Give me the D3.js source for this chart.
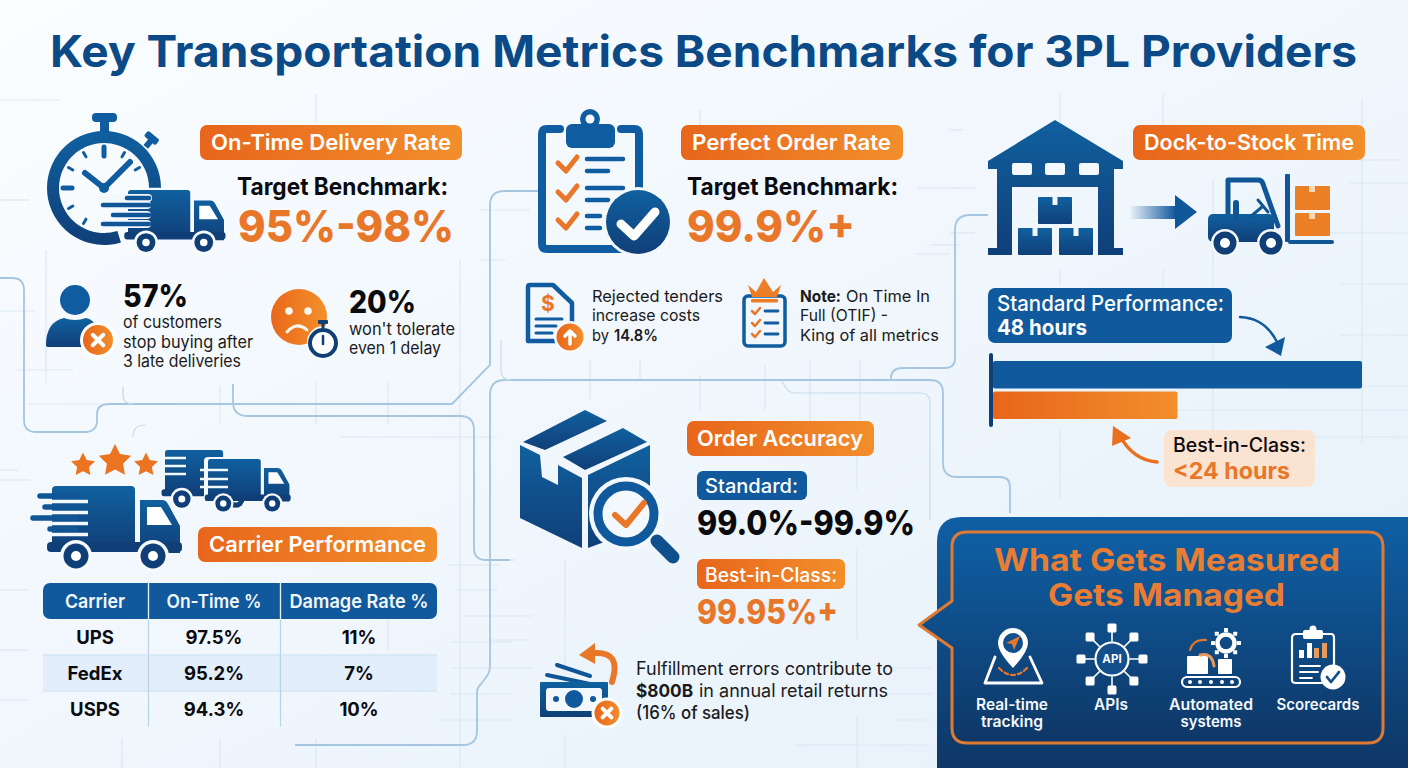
<!DOCTYPE html>
<html>
<head>
<meta charset="utf-8">
<script src="https://cdn.jsdelivr.net/npm/d3@7"></script>
<style>
  html, body { margin: 0; padding: 0; background: #f4f8fc; }
  svg { display: block; }
  text { font-family: Inter, "Noto Sans", sans-serif; }
</style>
</head>
<body>
<svg id="chart" width="1408" height="768"></svg>
<script>
// table values
var tableHead = ["Carrier", "On-Time %", "Damage Rate %"]
var carriers = ["UPS", "FedEx", "USPS"]
var onTimePct = [97.5, 95.2, 94.3]
var damageRatePct = [11, 7, 10]

// dock-to-stock bars
var dockNames = ["Standard Performance", "Best-in-Class"]
var dockHours = [48, 24]

// callout items
var toolLines = [["Real-time", "tracking"], ["APIs"], ["Automated", "systems"], ["Scorecards"]]

var BLUE = "url(#gradBlue)", ORANGE = "url(#gradOrange)", BG = "#f3f8fc"
var INK = "#0b0b0f", ORANGE_TXT = "#e9772a", NAVY = "#0f3f73", MID = "#0f5ca0", LINE = "#a5c6e0", FAINT = "#dbe8f3"

var svg = d3.select("#chart")
var defs = svg.append("defs")

function gradient(id, x2, y2, c1, c2) {
  var g = defs.append("linearGradient").attr("id", id)
    .attr("x1", 0).attr("y1", 0).attr("x2", x2).attr("y2", y2)
  g.append("stop").attr("offset", "0%").attr("stop-color", c1)
  g.append("stop").attr("offset", "100%").attr("stop-color", c2)
}
gradient("gradBg", 1, 1, "#fbfdff", "#e5f0fa")
gradient("gradBlue", 0, 1, "#10609f", "#103f78")
gradient("gradOrange", 1, 0, "#e8661b", "#f28e2c")
gradient("gradFace", 1, 0, "#e9681c", "#f39029")
gradient("gradPanel", 0, 1, "#0f5fa4", "#0e3766")
gradient("gradTail", 1, 0, "#eaf2fa", "#10579a")

svg.append("rect").attr("width", 1408).attr("height", 768).attr("fill", "url(#gradBg)")

// faint background grid
var gridLines = [
  [316,94,316,122],[46,250,46,383],[0,311,35,311],[16,370,73,370],[123,387,123,400],[220,386,220,424],[316,381,316,424],
  [388,381,388,424],[460,260,460,768],[28,404,100,404],[340,437,497,437],[365,404,440,404],
  [1060,94,1060,125],[1060,270,1060,285],[1060,430,1060,500],[1163,94,1163,125],[1163,270,1163,290],[1213,180,1213,440],
  [1362,100,1362,443],[1360,160,1400,160],[1350,183,1408,183],[1320,233,1408,233],[1340,284,1408,284],[1340,335,1408,335],
  [1290,386,1408,386],[1290,437,1408,437],[1110,410,1408,410],[950,130,963,130],[950,188,975,188],[950,233,975,233],
  [700,375,700,410],[765,365,765,410],[810,360,810,430],[860,360,860,420],[590,360,590,400],[640,360,640,380],
  [0,470,18,470],[0,590,28,590],[0,650,28,650],[0,700,28,700],[448,565,500,565],[455,590,498,590],[460,616,532,616],
  [451,642,512,642],[451,668,532,668],[450,694,512,694],[438,720,510,720],[565,560,565,668],[565,735,565,768],[122,738,122,768],
  [220,738,220,768],[316,738,316,768],[388,620,388,650],[857,455,857,490],[857,550,857,640],[857,715,857,768],
  [795,745,930,745],[880,668,932,668],[890,694,932,694],[897,720,932,720],[0,480,30,480],[490,560,515,560],[490,640,530,640],
  [480,210,530,210],[480,260,505,260],[700,110,700,140],[930,245,960,245],[917,188,960,188],[915,254,950,254],
  [1,100,60,100],[0,200,30,200]
]
svg.append("g").selectAll("line").data(gridLines).join("line")
  .attr("x1", function(d) { return d[0] }).attr("y1", function(d) { return d[1] })
  .attr("x2", function(d) { return d[2] }).attr("y2", function(d) { return d[3] })
  .attr("stroke", FAINT).attr("stroke-width", 1.2)

// connector lines
var connectors = [
  "M0,278 H12 Q24,278 24,290 V420 Q24,432 36,432 H85 Q97,432 97,420 V414 Q97,404 109,404 H452 L490,365 V205 Q490,191 505,191 H540",
  "M233,384 V402 Q233,416 248,416 H460 Q474,416 474,430 V548 Q474,560 486,560 H510",
  "M295,745 H463 Q477,745 477,731 V692 Q477,688 481,684 L487,676 Q490,672 490,665 V395 Q490,380 505,380 H930 Q943,380 943,393 V463 Q943,477 957,477 H1000 Q1010,477 1010,487 V513",
  "M891,380 V378 Q891,368 903,368 H945 Q955,368 955,358 V230 Q955,215 970,215 H988"
]
svg.append("g").selectAll("path").data(connectors).join("path")
  .attr("d", function(d) { return d })
  .attr("fill", "none").attr("stroke", LINE).attr("stroke-width", 1.8)
var lightConnectors = ["M501,340 V370 Q501,380 511,380", "M782,381 L786,388 Q789,393 796,393 H920 Q930,393 930,403 V520",
  "M123,387 V395 Q123,404 133,404", "M133,437 Q133,425 145,425"]
svg.append("g").selectAll("path").data(lightConnectors).join("path")
  .attr("d", function(d) { return d })
  .attr("fill", "none").attr("stroke", "#c7dcec").attr("stroke-width", 1.2)

function label(x, y, str, size, weight, fill, width, anchor) {
  var t = svg.append("text").attr("x", x).attr("y", y).text(str)
    .attr("font-size", size).attr("font-weight", weight).attr("fill", fill)
    .attr("text-anchor", anchor || "start")
  if (width) t.attr("textLength", width).attr("lengthAdjust", "spacingAndGlyphs")
  return t
}

function box(x, y, w, h, r, fill) {
  return svg.append("rect").attr("x", x).attr("y", y).attr("width", w).attr("height", h).attr("rx", r).attr("fill", fill)
}

function stroke(d, color, w, fill) {
  return svg.append("path").attr("d", d).attr("fill", fill || "none").attr("stroke", color)
    .attr("stroke-width", w).attr("stroke-linecap", "round").attr("stroke-linejoin", "round")
}

function poly(pts, fill) {
  return svg.append("polygon").attr("points", pts).attr("fill", fill)
}

function circle(x, y, r, fill) {
  return svg.append("circle").attr("cx", x).attr("cy", y).attr("r", r).attr("fill", fill)
}

function pill(x, y, w, h, str, tx, tw) {
  box(x, y, w, h, 7, ORANGE)
  label(tx, y + h - 10, str, 22, 600, "#fff", tw)
}

function badgeX(x, y, r) {
  circle(x, y, r + 3, "#fff")
  circle(x, y, r, ORANGE)
  var k = r * 0.35
  stroke("M" + (x - k) + "," + (y - k) + " L" + (x + k) + "," + (y + k) + " M" + (x + k) + "," + (y - k) + " L" + (x - k) + "," + (y + k), "#fff", 4)
}

function truck(x, y, s, lines) {
  var g = svg.append("g").attr("transform", "translate(" + x + "," + y + ") scale(" + s + ")")
  g.append("rect").attr("x", 0).attr("width", 83).attr("height", 64).attr("rx", 4).attr("fill", BLUE)
  g.append("path").attr("fill", BLUE).attr("d", "M88,14 H110 Q114,14 116,18 L128,40 V67 H88 Z")
  g.append("rect").attr("x", -5).attr("y", 56).attr("width", 135).attr("height", 10).attr("rx", 4).attr("fill", "#103f78")
  g.append("path").attr("fill", "#fff").attr("d", "M95,21 H109 L120,39 H95 Z")
  if (lines) {
    var rows = [[-12, 10], [-7, 21], [-19, 32], [-2, 43]]
    rows.forEach(function(r) {
      g.append("line").attr("x1", -2).attr("x2", 36).attr("y1", r[1] + 5.5).attr("y2", r[1] + 5.5).attr("stroke", BG).attr("stroke-width", 3.5)
      g.append("line").attr("x1", r[0]).attr("x2", 24).attr("y1", r[1]).attr("y2", r[1]).attr("stroke", "#105596").attr("stroke-width", 5.5).attr("stroke-linecap", "round")
    })
  }
  ;[24, 101].forEach(function(cx) {
    g.append("circle").attr("cx", cx).attr("cy", 70).attr("r", 16).attr("fill", "#f6fafd")
    g.append("circle").attr("cx", cx).attr("cy", 70).attr("r", 12.5).attr("fill", "#103f78")
    g.append("circle").attr("cx", cx).attr("cy", 70).attr("r", 5).attr("fill", "#fff")
  })
}

// title
label(50, 67, "Key Transportation Metrics Benchmarks for 3PL Providers", 44, 700, "#0b4a86", 1307)

// ---- On-Time Delivery Rate ----
var clockArc = d3.arc().innerRadius(45).outerRadius(57).startAngle(2.84).endAngle(7.85)
svg.append("path").attr("d", clockArc()).attr("transform", "translate(104,188)").attr("fill", BLUE)
box(92, 113, 25, 9, 4, MID)
box(100, 120, 9, 12, 0, MID)
svg.append("rect").attr("x", 144).attr("y", 134).attr("width", 15).attr("height", 7).attr("rx", 2).attr("fill", MID).attr("transform", "rotate(40 151 138)")
svg.append("rect").attr("x", 146).attr("y", 139).attr("width", 6).attr("height", 9).attr("fill", MID).attr("transform", "rotate(40 149 143)")
d3.range(12).filter(function(i) { return i < 3 || i > 6 }).forEach(function(i) {
  var a = i * Math.PI / 6, r1 = i % 3 == 0 ? 32 : 36
  stroke("M" + (104 + r1 * Math.sin(a)) + "," + (188 - r1 * Math.cos(a)) + " L" + (104 + 41 * Math.sin(a)) + "," + (188 - 41 * Math.cos(a)), MID, i % 3 == 0 ? 5 : 3)
})
stroke("M85,173 L104,188 L130,162", MID, 6)
circle(104, 188, 5, MID)
truck(128, 190, 0.75, false)
;[[103, 198, 148], [103, 205, 147], [113, 215, 147], [103, 224, 147]].forEach(function(r) {
  stroke("M" + r[0] + "," + r[1] + " H" + r[2], BG, 8)
})
;[[127, 198, 149], [103, 205, 149], [113, 215, 149], [103, 224, 149]].forEach(function(r) {
  stroke("M" + r[0] + "," + r[1] + " H" + r[2], "#105596", 4.5)
})

pill(200, 125, 262, 35, "On-Time Delivery Rate", 211, 240)
label(237, 195, "Target Benchmark:", 24, 700, INK, 211)
label(238, 242, "95%-98%", 44, 800, ORANGE_TXT, 216)

circle(75, 300, 15, MID)
svg.append("path").attr("fill", BLUE).attr("d", "M46,345 Q46,322 64,318 Q75,322 86,318 Q96,320 100,335 L90,347 H48 Q46,347 46,345 Z")
badgeX(98, 340, 15)
label(123, 307, "57%", 31, 800, INK, 65)
label(123, 328, "of customers", 17, 400, "#1a1a20", 99)
label(123, 348, "stop buying after", 17, 400, "#1a1a20", 130)
label(123, 367, "3 late deliveries", 17, 400, "#1a1a20", 118)

circle(299, 317, 28, "url(#gradFace)")
circle(289, 311, 3.8, "#fff8ef")
circle(308, 311, 3.8, "#fff8ef")
stroke("M287,332 Q297,321 307,330", "#fff8ef", 3)
circle(323, 342, 16, "#f6fafd")
svg.append("circle").attr("cx", 323).attr("cy", 343).attr("r", 13).attr("fill", "#fff").attr("stroke", NAVY).attr("stroke-width", 4)
box(318, 320, 10, 4, 1, NAVY)
box(321.5, 323, 3, 5, 0, NAVY)
stroke("M323,336 V344", NAVY, 2.5)
label(349, 313, "20%", 31, 800, INK, 67)
label(349, 335, "won't tolerate", 17, 400, "#1a1a20", 106)
label(349, 354, "even 1 delay", 17, 400, "#1a1a20", 92)

// ---- Perfect Order Rate ----
stroke("M560,129 H547 Q542,129 542,134 V244 Q542,249 547,249 H620 M621,129 H634 Q639,129 639,134 V190", MID, 8)
box(566, 124, 49, 24, 6, MID)
circle(590, 119, 10, MID)
circle(590, 119, 4.5, "#f3f8fc")
;[163, 192, 220].forEach(function(y, i) {
  stroke("M558," + y + " L566," + (y + 8) + " L577," + (y - 6), ORANGE_TXT, 5)
  stroke("M587," + (y - 4) + " H" + (i == 2 ? 600 : 623), MID, 4.5)
  stroke("M587," + (y + 8) + " H" + (i == 2 ? 600 : 608), MID, 4.5)
})
circle(638, 222, 35, "#f3f8fc")
circle(638, 222, 32, BLUE)
stroke("M621,224 L634,236 L655,212", "#fff", 9)

pill(681, 125, 222, 35, "Perfect Order Rate", 692, 199)
label(687, 195, "Target Benchmark:", 24, 700, INK, 211)
label(687, 242, "99.9%+", 44, 800, ORANGE_TXT, 168)

stroke("M553,285 H530 Q528,285 528,287 V341 H572 V303 Z", MID, 4.5)
label(548, 311, "$", 21, 700, ORANGE_TXT, null, "middle")
stroke("M536,319 H562 M536,326 H556 M536,333 H552", MID, 3)
circle(570, 337, 16, "#f6fafd")
circle(570, 337, 13.5, ORANGE)
stroke("M570,344 V331 M565,336 L570,331 L575,336", "#fff", 3.5)
label(592, 302, "Rejected tenders", 16.5, 400, "#1a1a20", 131)
label(592, 321, "increase costs", 16.5, 400, "#1a1a20", 108)
label(592, 341, "by", 16.5, 400, "#1a1a20", 17)
label(614, 341, "14.8%", 16.5, 600, "#1a1a20", 44)

svg.append("rect").attr("x", 744).attr("y", 296).attr("width", 41).attr("height", 50).attr("rx", 4).attr("fill", "none").attr("stroke", MID).attr("stroke-width", 3.5)
poly("748,285 756,292 764,278 773,292 781,285 777,297 752,297", "#ec7f26")
box(751, 299, 27, 3.5, 1, "#ec7f26")
;[311, 323, 334].forEach(function(y) {
  stroke("M752," + y + " L755," + (y + 3) + " L760," + (y - 3), ORANGE_TXT, 2.5)
  stroke("M765," + y + " H778", MID, 2.8)
})
label(800, 302, "Note:", 16.5, 700, "#1a1a20", 41)
label(846, 302, "On Time In", 16.5, 400, "#1a1a20", 84)
label(800, 321, "Full (OTIF) -", 16.5, 400, "#1a1a20", 88)
label(800, 341, "King of all metrics", 16.5, 400, "#1a1a20", 139)

// ---- Dock-to-Stock Time ----
svg.append("path").attr("fill", BLUE).attr("d", "M1055,120 L1123,161 V169 H1114 V248 H1123 V255 H1098 V187 H1012 V255 H988 V248 H997 V169 H988 V161 Z")
;[1012, 1045, 1079].forEach(function(x) { box(x, 163, 20, 12, 2, "#f3f8fc") })
box(1038, 197, 34, 27, 1, BLUE)
box(1018, 228, 34, 27, 1, BLUE)
box(1059, 228, 34, 27, 1, BLUE)
;[1055, 1035, 1076].forEach(function(x, i) { box(x - 2.5, i == 0 ? 197 : 228, 5, 8, 0, "#f3f8fc") })
box(1130, 206, 46, 13, 0, "url(#gradTail)")
poly("1175,195 1197,212 1175,229", "#10579a")

// forklift
stroke("M1228,214 V180 H1258 Q1262,180 1263,184 L1278,226", "#105596", 5, "none")
box(1208, 214, 66, 28, 5, BLUE)
box(1233, 200, 6, 20, 3, "#105596")
stroke("M1250,217 L1262,207 M1258,200 L1268,212", "#105596", 3)
box(1285, 174, 5, 68, 1, "#105596")
box(1288, 240, 46, 4, 2, "#105596")
box(1295, 186, 35, 24, 1, "#ec7f26")
box(1295, 213, 35, 23, 1, "#ec7f26")
;[1312, 1312].forEach(function(x, i) { box(x - 3, i == 0 ? 186 : 213, 6, 6, 0, "#f8d7b4") })
;[1225, 1271].forEach(function(x) {
  circle(x, 243, 14, "#f3f8fc")
  circle(x, 243, 11.5, "#103f78")
  circle(x, 243, 5, "#fff")
})

pill(1133, 125, 232, 35, "Dock-to-Stock Time", 1144, 210)
box(988, 288, 244, 55, 7, "#10599c")
label(997, 311, "Standard Performance:", 22, 500, "#fff", 227)
label(997, 335, "48 hours", 22, 700, "#fff", 90)

var dockX = d3.scaleLinear().domain([0, d3.max(dockHours)]).range([993, 1362])
var dockY = d3.scaleBand().domain(dockNames).range([361, 419]).paddingInner(0.1)
svg.append("g").selectAll("rect").data(dockNames).join("rect")
  .attr("x", dockX(0))
  .attr("y", function(d) { return dockY(d) })
  .attr("width", function(d, i) { return dockX(dockHours[i]) - dockX(0) })
  .attr("height", dockY.bandwidth())
  .attr("rx", 2)
  .attr("fill", function(d, i) { return i == 0 ? "#10599c" : ORANGE })
box(989, 353, 4, 74, 2, NAVY)

stroke("M1240,317 Q1265,318 1277,342", "#10599c", 2.5)
poly("1285,337 1281,356 1265,347", "#10599c")
stroke("M1157,462 Q1133,460 1120,436", "#e8701f", 3.5)
poly("1113,426 1131,438 1112,446", "#e8701f")

box(1164, 430, 151, 57, 8, "#fbe3d1")
label(1173, 452, "Best-in-Class:", 20, 500, INK, 133)
label(1173, 479, "<24 hours", 23, 700, ORANGE_TXT, 117)

// ---- Carrier Performance ----
// fatter than d3.symbolStar, closer to the stars in the picture
function starPoints(cx, cy, r) {
  return d3.range(10).map(function(i) {
    var a = i * Math.PI / 5, k = i % 2 == 0 ? r : r * 0.5
    return (cx + k * Math.sin(a)) + "," + (cy - k * Math.cos(a))
  }).join(" ")
}
;[[83, 465, 12.5], [115, 461, 17], [146, 465, 12.5]].forEach(function(s) {
  poly(starPoints(s[0], s[1], s[2]), "#ec7420")
})
truck(165, 450, 0.7, false)
svg.append("g").selectAll("line").data([458, 466, 474]).join("line")
  .attr("x1", 163).attr("x2", 186).attr("y1", function(d) { return d }).attr("y2", function(d) { return d })
  .attr("stroke", BG).attr("stroke-width", 2.5)
box(204, 457, 58, 44, 4, BG)
truck(208, 459, 0.636, false)
svg.append("g").selectAll("line").data([470, 479, 487]).join("line")
  .attr("x1", 200).attr("x2", 228).attr("y1", function(d) { return d }).attr("y2", function(d) { return d })
  .attr("stroke", BG).attr("stroke-width", 2.5)
truck(52, 486, 1, true)

pill(198, 527, 239, 35, "Carrier Performance", 209, 217)

var colX = d3.scaleOrdinal().domain(tableHead).range([95, 214, 359])
var rowY = d3.scaleBand().domain(carriers).range([619, 727])
box(43, 583, 394, 36, 7, "#10599c")
box(43, rowY("FedEx"), 394, rowY.bandwidth(), 0, "#e2eef9")
svg.append("g").selectAll("line").data([655, 691]).join("line")
  .attr("x1", 43).attr("x2", 437).attr("y1", function(d) { return d }).attr("y2", function(d) { return d })
  .attr("stroke", "#c9dff1").attr("stroke-width", 1.2)
;[148.5, 280.5].forEach(function(x) {
  stroke("M" + x + ",583 V726", "#b9d3e8", 1.2)
  stroke("M" + x + ",583 V619", "#e6f0f8", 1.2)
})
var headWidth = [60, 95, 139]
tableHead.forEach(function(h, i) {
  label(colX(h), 608, h, 19, 600, "#f1f7fc", headWidth[i], "middle")
})
svg.append("g").selectAll("text.c").data(carriers).join("text")
  .attr("x", colX(tableHead[0])).attr("y", function(d) { return rowY(d) + 25 })
  .attr("text-anchor", "middle").attr("font-size", 18.5).attr("font-weight", 700).attr("fill", INK)
  .text(function(d) { return d })
svg.append("g").selectAll("text.o").data(onTimePct).join("text")
  .attr("x", colX(tableHead[1])).attr("y", function(d, i) { return rowY(carriers[i]) + 25 })
  .attr("text-anchor", "middle").attr("font-size", 18.5).attr("font-weight", 700).attr("fill", INK)
  .text(function(d) { return d.toFixed(1) + "%" })
svg.append("g").selectAll("text.d").data(damageRatePct).join("text")
  .attr("x", colX(tableHead[2])).attr("y", function(d, i) { return rowY(carriers[i]) + 25 })
  .attr("text-anchor", "middle").attr("font-size", 18.5).attr("font-weight", 700).attr("fill", INK)
  .text(function(d) { return d + "%" })

// ---- Order Accuracy ----
poly("523,442 585,410 607,421 545,450", BLUE)
poly("563,457 623,428 647,442 585,470", BLUE)
poly("520,445 540,455 542,477 558,485 558,465 582,478 582,548 520,518", BLUE)
poly("588,475 650,445 650,525 588,548", BLUE)
circle(626, 514, 37, "#f3f8fc")
svg.append("circle").attr("cx", 626).attr("cy", 514).attr("r", 28).attr("fill", "#f3f8fc").attr("stroke", "#10599c").attr("stroke-width", 9)
stroke("M657,541 L673,557", "#0f4f8c", 13)
stroke("M615,515 L626,525 L644,503", ORANGE_TXT, 6)

pill(687, 421, 187, 35, "Order Accuracy", 697, 166)
box(697, 471, 110, 29, 6, "#10599c")
label(705, 493, "Standard:", 20, 500, "#fff", 93)
label(697, 535, "99.0%-99.9%", 34, 800, INK, 218)
box(697, 559, 148, 30, 6, ORANGE)
label(705, 582, "Best-in-Class:", 20, 500, "#fff", 132)
label(697, 624, "99.95%+", 34, 800, ORANGE_TXT, 141)

// money icon
stroke("M557,665 L590,676 M547,675 L590,684", "#105596", 4)
box(540, 682, 68, 35, 1, BLUE)
box(546, 688, 56, 23, 3, "#f3f8fc")
circle(574, 699, 9, "#10599c")
circle(556, 699, 3, "#10599c")
circle(593, 699, 3, "#10599c")
stroke("M594,653 Q622,651 612,682", ORANGE_TXT, 6)
poly("579,655 595,643 595,664", ORANGE_TXT)
badgeX(607, 713, 12.5)
label(636, 675, "Fulfillment errors contribute to", 18, 400, "#1a1a20", 257)
label(636, 697, "$800B", 18, 700, "#1a1a20", 57)
label(699, 697, "in annual retail returns", 18, 400, "#1a1a20", 189)
label(636, 719, "(16% of sales)", 18, 500, "#1a1a20", 114)

// ---- Callout ----
svg.append("path").attr("fill", "url(#gradPanel)")
  .attr("d", "M937,768 V542 Q937,517 962,517 H1408 V768 Z")
svg.append("path").attr("fill", "url(#gradPanel)").attr("stroke", "#e07a33").attr("stroke-width", 3).attr("stroke-linejoin", "round")
  .attr("d", "M967,532 H1368 Q1383,532 1383,547 V728 Q1383,743 1368,743 H967 Q952,743 952,728 V648 L919,625 L952,601 V547 Q952,532 967,532 Z")
label(994, 571, "What Gets Measured", 31, 700, "#e87d33", 346)
label(1048, 606, "Gets Managed", 31, 700, "#e87d33", 237)

var toolX = d3.scaleOrdinal().domain(d3.range(4)).range([1012, 1111, 1211, 1318])
var toolWidth = [72, 34, 84, 83]
var toolWidth2 = [62, 0, 61, 0]
toolLines.forEach(function(lines, i) {
  label(toolX(i), 710, lines[0], 15.5, 600, "#f4f8fc", toolWidth[i], "middle")
  if (lines[1]) label(toolX(i), 727, lines[1], 15.5, 600, "#f4f8fc", toolWidth2[i], "middle")
})

// tracking icon
stroke("M995,657 L985,683 H1042 L1030,657", "#fff", 2.8)
svg.append("path").attr("fill", "#fff").attr("d", "M1013,628 A15,15 0 0 1 1028,643 Q1028,652 1013,668 Q998,652 998,643 A15,15 0 0 1 1013,628 Z")
circle(1013, 643, 10, "#114f8c")
poly("1006,643 1020,636 1014,650 1012,644", ORANGE_TXT)
stroke("M999,668 Q1013,682 1027,668", ORANGE_TXT, 2.2).attr("stroke-dasharray", "4 3")

// api icon
d3.range(8).forEach(function(i) {
  var a = i * Math.PI / 4, ax = 1112 + 31 * Math.sin(a), ay = 659 - 31 * Math.cos(a)
  stroke("M" + (1112 + 18 * Math.sin(a)) + "," + (659 - 18 * Math.cos(a)) + " L" + ax + "," + ay, "#fff", 1.6)
  box(ax - 4.5, ay - 4.5, 9, 9, 1.5, "#fff")
})
svg.append("circle").attr("cx", 1112).attr("cy", 659).attr("r", 16.5).attr("fill", "#124f8c").attr("stroke", "#fff").attr("stroke-width", 2.2)
label(1112, 663, "API", 11.5, 700, "#fff", null, "middle")

// automated systems icon
svg.append("rect").attr("x", 1182).attr("y", 677).attr("width", 58).attr("height", 10).attr("rx", 5).attr("fill", "none").attr("stroke", "#fff").attr("stroke-width", 2.2)
;[1190, 1200, 1211, 1222, 1232].forEach(function(x) { circle(x, 682, 2, "#fff") })
box(1187, 656, 21, 18, 1, "#fff")
box(1218, 659, 14, 15, 1, "#fff")
svg.append("circle").attr("cx", 1226).attr("cy", 643).attr("r", 8.5).attr("fill", "none").attr("stroke", "#fff").attr("stroke-width", 4.5)
d3.range(8).forEach(function(i) {
  var a = i * Math.PI / 4
  box(1226 + 13 * Math.sin(a) - 2, 643 - 13 * Math.cos(a) - 2, 4, 4, 0.5, "#fff")
})
stroke("M1190,650 Q1193,639 1206,640", ORANGE_TXT, 2.2)
stroke("M1200,655 Q1212,652 1214,666", "#e89a5c", 3)

// scorecards icon
stroke("M1303,634 H1296 Q1292,634 1292,638 V680 Q1292,683 1296,683 H1322 M1317,634 H1331 Q1334,634 1334,638 V665", "#fff", 2.2)
box(1303, 630, 20, 9, 2, "#fff")
circle(1313, 629, 3.5, "#fff")
;[[1299, 650, "#fff"], [1307, 643, "#fff"], [1314, 648, "#e89a5c"], [1322, 643, "#e89a5c"]].forEach(function(b) {
  box(b[0], b[1], 5, 658 - b[1], 0, b[2])
})
stroke("M1300,666 H1320 M1300,672 H1318 M1300,678 H1312", "#fff", 1.8)
circle(1333, 677, 12.5, "#fff")
stroke("M1327,677 L1331,682 L1339,672", "#124f8c", 2.8)
</script>
</body>
</html>
